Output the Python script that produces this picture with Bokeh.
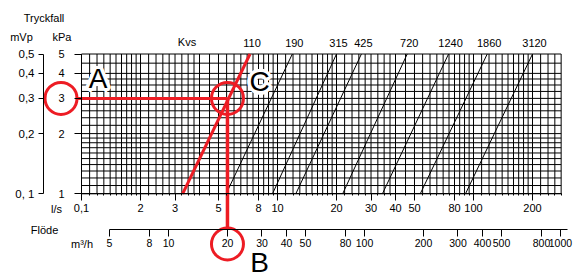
import math
from bokeh.plotting import figure
from bokeh.models import Range1d, LogAxis, FixedTicker, LogScale
from bokeh.core.properties import value
from bokeh.embed import file_html
from bokeh.resources import INLINE

# ---------------- data ----------------
LS_TICKS = [1, 2, 3, 5, 8, 10, 20, 30, 40, 50, 80, 100, 200]
LS_LABELS = ["0,1", "2", "3", "5", "8", "10", "20", "30", "40", "50", "80", "100", "200"]
M3H_TICKS = [5, 8, 10, 20, 30, 40, 50, 80, 100, 200, 300, 400, 500, 800, 1000]
M3H_LABELS = ["5", "8", "10", "20", "30", "40", "50", "80", "100", "200", "300", "400", "500", "800", "1000"]
KPA_TICKS = [1, 2, 3, 4, 5]
KPA_LABELS = ["1", "2", "3", "4", "5"]
MVP_TICKS = [0.1, 0.2, 0.3, 0.4, 0.5]
MVP_LABELS = ["0, 1", "0,2", "0,3", "0,4", "0,5"]

# grid lines of the nomogram (l/s and kPa)
GRID_X = [1, 1.1, 1.2, 1.3, 1.4, 1.5, 1.6, 1.7, 1.8, 1.9, 2, 2.2, 2.4, 2.6, 2.8, 3,
          3.25, 3.5, 3.75, 4, 4.5, 5, 5.5, 6, 6.5, 7, 7.5, 8, 8.5, 9, 9.5, 10,
          11, 12, 13, 14, 15, 16, 17, 18, 19, 20, 22, 24, 26, 28, 30,
          32.5, 35, 37.5, 40, 45, 50, 55, 60, 65, 70, 75, 80, 85, 90, 95, 100,
          110, 120, 130, 140, 150, 160, 170, 180, 190, 200, 220, 240, 260, 280]
GRID_Y = [1, 1.1, 1.2, 1.3, 1.4, 1.5, 1.6, 1.7, 1.8, 1.9, 2, 2.2, 2.4, 2.6, 2.8, 3,
          3.25, 3.5, 3.75, 4, 4.5, 5]

# Kvs lines: flow (l/s) where each line meets 1 kPa and 5 kPa
KVS_LABELS = ["110", "190", "315", "425", "720", "1240", "1860", "3120"]
KVS_Q_LOW = [3.28, 5.47, 9.43, 12.4, 21.5, 34.3, 53.5, 91.0]
KVS_Q_HIGH = [7.24, 11.9, 20.0, 26.8, 45.9, 74.6, 117.5, 200.0]
DP_LOW, DP_HIGH = 1, 5

# worked example (A -> C -> B)
SEL_DP = 3        # kPa
SEL_FLOW = 20     # m3/h
M3H_PER_LS = 3.6
KPA_PER_MVP = 10

# ---------------- layout ----------------
FIG_W, FIG_H = 579, 277
M = 0
X1_PX, DEC_X = 81.0, 196.0     # page px of 1 l/s, px per decade
Y1_PX, DEC_Y = 193.3, 200.0    # page px of 1 kPa, px per decade


def xd(px):
    return 10 ** ((px - X1_PX) / DEC_X)


def yd(py):
    return 10 ** ((Y1_PX - py) / DEC_Y)


FONT = "Liberation Sans"
RED = "#ed1c24"

x_range = Range1d(xd(M), xd(M + FIG_W))
y_range = Range1d(yd(M + FIG_H), yd(M))

p = figure(width=FIG_W, height=FIG_H, x_axis_type="log", y_axis_type="log",
           x_range=x_range, y_range=y_range,
           x_axis_location=None, y_axis_location=None,
           output_backend="svg", toolbar_location=None, min_border=0)
p.outline_line_color = None
p.xgrid.visible = False
p.ygrid.visible = False
p.background_fill_color = "white"
p.border_fill_color = "white"

p.extra_x_ranges = {"m3h": Range1d(x_range.start * M3H_PER_LS, x_range.end * M3H_PER_LS)}
p.extra_x_scales = {"m3h": LogScale()}
p.extra_y_ranges = {"mvp": Range1d(y_range.start / KPA_PER_MVP, y_range.end / KPA_PER_MVP)}
p.extra_y_scales = {"mvp": LogScale()}


def style_axis(ax, tick_out, standoff, size="11px", minor=False):
    ax.axis_line_color = "black"
    ax.axis_line_width = 1
    ax.major_tick_line_color = "black"
    ax.major_tick_in = 0
    ax.major_tick_out = tick_out
    ax.minor_tick_in = 0
    ax.minor_tick_out = 2
    ax.minor_tick_line_color = "black" if minor else None
    ax.major_label_text_font = FONT
    ax.major_label_text_font_size = size
    ax.major_label_text_color = "black"
    ax.major_label_standoff = standoff


# grid
p.segment(x0=GRID_X, y0=[DP_LOW] * len(GRID_X), x1=GRID_X, y1=[DP_HIGH] * len(GRID_X),
          line_color="black", line_width=1)
p.segment(x0=[GRID_X[0]] * len(GRID_Y), y0=GRID_Y, x1=[GRID_X[-1]] * len(GRID_Y), y1=GRID_Y,
          line_color="black", line_width=1)

# Kvs lines
p.segment(x0=KVS_Q_LOW, y0=[DP_LOW] * len(KVS_Q_LOW), x1=KVS_Q_HIGH, y1=[DP_HIGH] * len(KVS_Q_HIGH),
          line_color="black", line_width=1)
p.text(x=KVS_Q_HIGH, y=[DP_HIGH] * len(KVS_Q_HIGH), text=KVS_LABELS, x_offset=2, y_offset=-11,
       text_align="center", text_baseline="middle", text_font=value(FONT),
       text_font_size=value("11px"), text_color="black")

# axes
ax_ls = LogAxis(ticker=FixedTicker(ticks=LS_TICKS, minor_ticks=GRID_X),
                fixed_location=DP_LOW, bounds=(GRID_X[0], GRID_X[-1]),
                major_label_overrides={float(t): l for t, l in zip(LS_TICKS, LS_LABELS)})
style_axis(ax_ls, 7, 3, size="11px", minor=True)
p.add_layout(ax_ls, "below")

ax_kpa = LogAxis(ticker=FixedTicker(ticks=KPA_TICKS, minor_ticks=[]),
                 fixed_location=GRID_X[0], bounds=(KPA_TICKS[0], KPA_TICKS[-1]),
                 major_label_overrides={float(t): l for t, l in zip(KPA_TICKS, KPA_LABELS)})
style_axis(ax_kpa, 7, 10, size="11px")
p.add_layout(ax_kpa, "left")

ax_mvp = LogAxis(y_range_name="mvp", ticker=FixedTicker(ticks=MVP_TICKS, minor_ticks=[]),
                 fixed_location=xd(43), bounds=(MVP_TICKS[0], MVP_TICKS[-1]),
                 major_label_overrides={float(t): l for t, l in zip(MVP_TICKS, MVP_LABELS)})
style_axis(ax_mvp, 5, 4, size="11.5px")
p.add_layout(ax_mvp, "left")

ax_m3h = LogAxis(x_range_name="m3h", ticker=FixedTicker(ticks=M3H_TICKS, minor_ticks=[]),
                 fixed_location=yd(229), bounds=(M3H_TICKS[0], 1086),
                 major_label_overrides={float(t): l for t, l in zip(M3H_TICKS, M3H_LABELS)})
style_axis(ax_m3h, 7, 2, size="10.5px")
p.add_layout(ax_m3h, "below")


# axis titles
def label(txt, px, py, size="11px", align="center"):
    p.text(x=[xd(px)], y=[yd(py)], text=[txt], text_align=align, text_baseline="middle",
           text_font=value(FONT), text_font_size=value(size), text_color="black")


label("Tryckfall", 43.5, 17.5)
label("mVp", 21, 36)
label("kPa", 61.5, 36)
label("Kvs", 186.5, 41.5)
label("l/s", 56, 208)
label("Flöde", 44, 229)
label("m³/h", 81.5, 243)

# worked example in red
sel_ls = SEL_FLOW / M3H_PER_LS
p.line(x=[KVS_Q_LOW[0], KVS_Q_HIGH[0]], y=[DP_LOW, DP_HIGH], line_color=RED, line_width=3)
p.segment(x0=[xd(60.5 + 16)], y0=[SEL_DP], x1=[sel_ls], y1=[SEL_DP], line_color=RED, line_width=3)
p.segment(x0=[sel_ls], y0=[SEL_DP], x1=[sel_ls], y1=[yd(243.5 - 16)], line_color=RED, line_width=3.5)
p.scatter(x=[xd(60.5), sel_ls, sel_ls], y=[SEL_DP, SEL_DP, yd(243.5)], marker="circle", size=32,
          fill_color=None, line_color=RED, line_width=3)

# big letters with white halo
letters = [("A", 97.5, 78, True), ("C", 259, 81, True), ("B", 259, 262, False)]
halo_dx = [3.5 * math.cos(2 * math.pi * k / 16) for k in range(16)]
halo_dy = [3.5 * math.sin(2 * math.pi * k / 16) for k in range(16)]
for txt, px, py, halo in letters:
    if halo:
        p.text(x=[xd(px)] * 16, y=[yd(py)] * 16, text=[txt] * 16, x_offset=halo_dx, y_offset=halo_dy,
               text_align="center", text_baseline="middle", text_font=value(FONT),
               text_font_size=value("28px"), text_color="white")
    p.text(x=[xd(px)], y=[yd(py)], text=[txt], text_align="center", text_baseline="middle",
           text_font=value(FONT), text_font_size=value("28px"), text_color="black")

open("out.html", "w").write(file_html(p, INLINE))
